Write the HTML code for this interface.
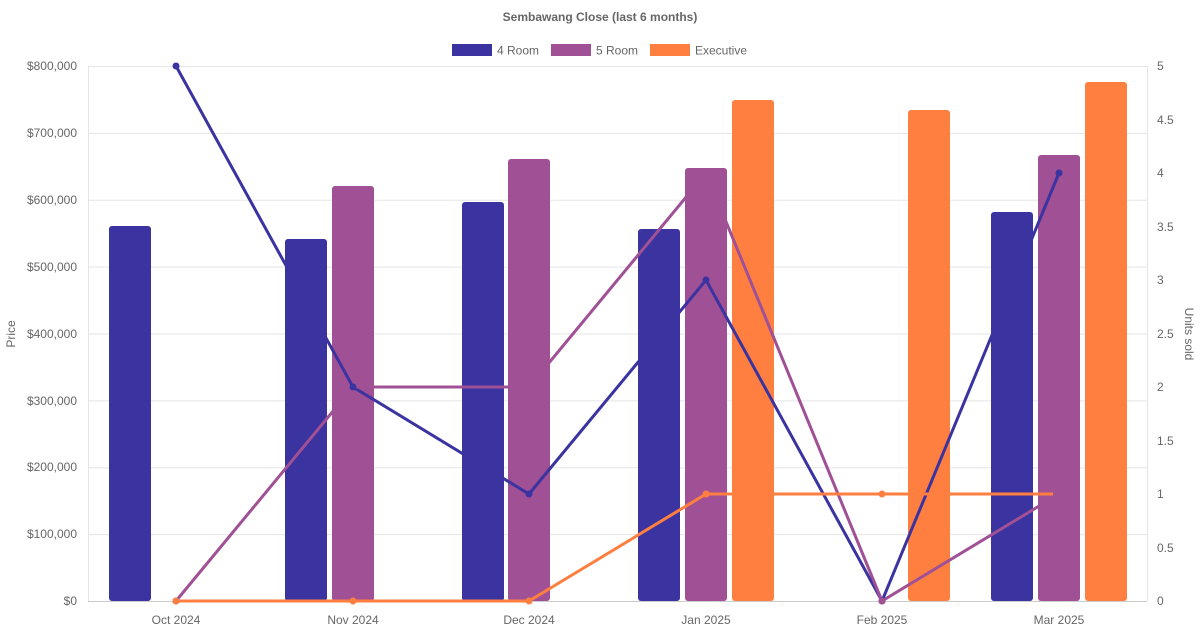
<!DOCTYPE html>
<html><head><style>body{margin:0;background:#fff}svg{display:block;font-family:"Liberation Sans",sans-serif}</style></head><body>
<svg width="1200" height="630" xmlns="http://www.w3.org/2000/svg">
<text x="600" y="21" text-anchor="middle" font-size="12" font-weight="bold" fill="#666">Sembawang Close (last 6 months)</text>
<rect x="452" y="44" width="40" height="12" fill="#3a33a0"/><text x="497" y="54.5" font-size="12" fill="#666">4 Room</text>
<rect x="551" y="44" width="40" height="12" fill="#a05095"/><text x="596" y="54.5" font-size="12" fill="#666">5 Room</text>
<rect x="650" y="44" width="40" height="12" fill="#ff7f41"/><text x="695" y="54.5" font-size="12" fill="#666">Executive</text>
<g stroke="#e5e5e5" stroke-width="1">
<line x1="88" y1="66.5" x2="1147" y2="66.5"/><line x1="88" y1="133.4" x2="1147" y2="133.4"/><line x1="88" y1="200.3" x2="1147" y2="200.3"/><line x1="88" y1="267.1" x2="1147" y2="267.1"/><line x1="88" y1="334" x2="1147" y2="334"/><line x1="88" y1="400.9" x2="1147" y2="400.9"/><line x1="88" y1="467.8" x2="1147" y2="467.8"/><line x1="88" y1="534.6" x2="1147" y2="534.6"/>
<line x1="88.5" y1="66" x2="88.5" y2="601"/><line x1="1147.5" y1="66" x2="1147.5" y2="601"/>
</g>
<line x1="88" y1="601.5" x2="1147" y2="601.5" stroke="#ccc"/>
<g font-size="12" fill="#666" text-anchor="end">
<text x="77" y="70">$800,000</text><text x="77" y="137">$700,000</text><text x="77" y="204">$600,000</text><text x="77" y="271">$500,000</text><text x="77" y="338">$400,000</text><text x="77" y="405">$300,000</text><text x="77" y="471">$200,000</text><text x="77" y="538">$100,000</text><text x="77" y="605">$0</text>
</g>
<g font-size="12" fill="#666">
<text x="1157" y="70">5</text><text x="1157" y="124">4.5</text><text x="1157" y="177">4</text><text x="1157" y="231">3.5</text><text x="1157" y="284">3</text><text x="1157" y="338">2.5</text><text x="1157" y="391">2</text><text x="1157" y="445">1.5</text><text x="1157" y="498">1</text><text x="1157" y="552">0.5</text><text x="1157" y="605">0</text>
</g>
<g font-size="12" fill="#666" text-anchor="middle">
<text x="176" y="624">Oct 2024</text><text x="353" y="624">Nov 2024</text><text x="529" y="624">Dec 2024</text><text x="706" y="624">Jan 2025</text><text x="882" y="624">Feb 2025</text><text x="1059" y="624">Mar 2025</text>
</g>
<text transform="translate(15,334) rotate(-90)" text-anchor="middle" font-size="12" fill="#666">Price</text>
<text transform="translate(1185,334) rotate(90)" text-anchor="middle" font-size="12" fill="#666">Units sold</text>
<g fill="#3a33a0">
<rect x="109" y="226" width="42" height="375" rx="3"/><rect x="285" y="239" width="42" height="362" rx="3"/><rect x="462" y="202" width="42" height="399" rx="3"/><rect x="638" y="229" width="42" height="372" rx="3"/><rect x="991" y="212" width="42" height="389" rx="3"/>
</g>
<g fill="#a05095">
<rect x="332" y="186" width="42" height="415" rx="3"/><rect x="508" y="159" width="42" height="442" rx="3"/><rect x="685" y="168" width="42" height="433" rx="3"/><rect x="1038" y="155" width="42" height="446" rx="3"/>
</g>
<g fill="#ff7f41">
<rect x="732" y="100" width="42" height="501" rx="3"/><rect x="908" y="110" width="42" height="491" rx="3"/><rect x="1085" y="82" width="42" height="519" rx="3"/>
</g>
<g fill="none" stroke-width="3">
<polyline stroke="#3a33a0" points="176,66 353,387 529,494 706,280 882,601 1059,173"/>
<polyline stroke="#a05095" points="176,601 353,387 529,387 706,173 882,601 1059,494"/>
<polyline stroke="#ff7f41" points="176,601 353,601 529,601 706,494 882,494 1053,494"/>
</g>
<g fill="#3a33a0"><circle cx="176" cy="66" r="3.5"/><circle cx="353" cy="387" r="3.5"/><circle cx="529" cy="494" r="3.5"/><circle cx="706" cy="280" r="3.5"/><circle cx="882" cy="601" r="3.5"/><circle cx="1059" cy="173" r="3.5"/></g>
<g fill="#a05095"><circle cx="176" cy="601" r="3.5"/><circle cx="882" cy="601" r="3.5"/></g>
<g fill="#ff7f41"><circle cx="176" cy="601" r="3.5"/><circle cx="353" cy="601" r="3.5"/><circle cx="529" cy="601" r="3.5"/><circle cx="706" cy="494" r="3.5"/><circle cx="882" cy="494" r="3.5"/></g>
</svg>
</body></html>
